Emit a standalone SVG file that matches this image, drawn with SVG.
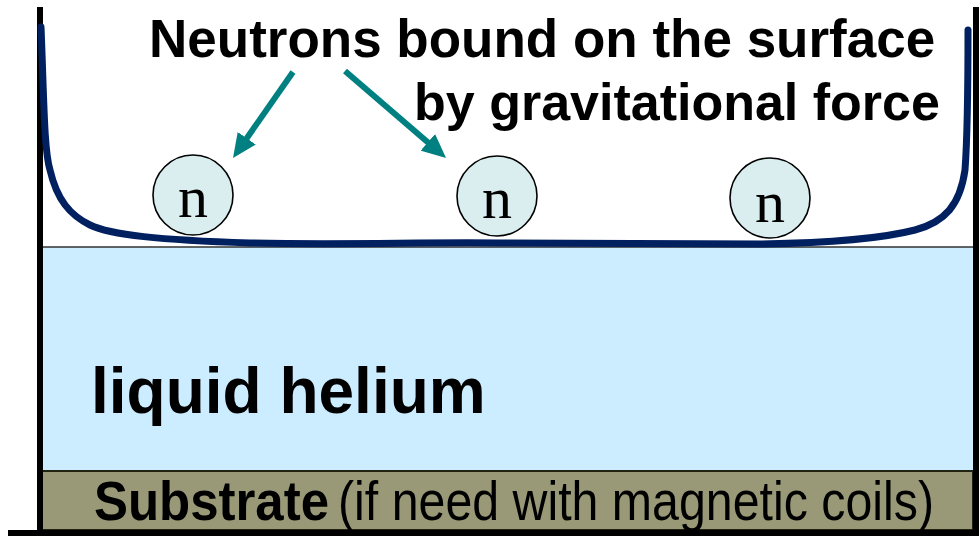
<svg xmlns="http://www.w3.org/2000/svg" width="979" height="536" viewBox="0 0 979 536">
<style>
.title{font-family:"Liberation Sans",Arial,sans-serif;font-weight:bold;fill:#000}
.n{font-family:"Liberation Serif","Times New Roman",serif;font-size:60px;fill:#000;text-anchor:middle}
.circ{fill:#DAEEF0;stroke:#000;stroke-width:1.6}
.arrow{stroke:#008080;stroke-width:6;fill:none;marker-end:url(#ah)}
</style>
<defs>
<marker id="ah" markerUnits="userSpaceOnUse" markerWidth="24" markerHeight="22" refX="6" refY="11" orient="auto" viewBox="0 0 24 22">
<path d="M0,0 L24,11 L0,22 z" fill="#008080"/>
</marker>
</defs>
<rect width="979" height="536" fill="#fff"/>
<g id="helium">
<rect x="41" y="247" width="934" height="224" fill="#CCECFF" stroke="#333" stroke-width="1.5"/>
<text class="title" x="91" y="413" font-size="64">liquid helium</text>
</g>
<g id="substrate">
<rect x="41" y="471" width="932" height="59" fill="#999978" stroke="#222211" stroke-width="2"/>
<text class="title" x="94" y="520" font-size="55" textLength="235" lengthAdjust="spacingAndGlyphs">Substrate</text>
<text x="338" y="520" font-family="'Liberation Sans',Arial,sans-serif" font-size="55" textLength="596" lengthAdjust="spacingAndGlyphs" fill="#000">(if need with magnetic coils)</text>
</g>
<g id="container">
<rect x="37" y="7" width="6" height="529" fill="#000"/>
<rect x="973" y="7" width="6" height="529" fill="#000"/>
<rect x="8" y="530" width="971" height="6" fill="#000"/>
</g>
<g id="potential">
<path d="M41 27 C44 100,44 150,50 170 C57 200,70 215,90 225 C110 235,160 240,250 243 C350 245,420 242,500 243 C600 244,680 244,760 244 C830 243,880 239,915 230 C945 222,960 205,965 170 C968 130,968 80,968 30" fill="none" stroke="#002060" stroke-width="7" stroke-linecap="round"/>
</g>
<g id="label">
<text class="title" x="149" y="57" font-size="53">Neutrons bound on the surface</text>
<text class="title" x="414" y="120" font-size="52">by gravitational force</text>
</g>
<g id="n1"><circle class="circ" cx="193" cy="195" r="40"/><text class="n" x="193" y="217">n</text></g>
<g id="n2"><circle class="circ" cx="497" cy="196" r="40"/><text class="n" x="497" y="218">n</text></g>
<g id="n3"><circle class="circ" cx="770" cy="198" r="40"/><text class="n" x="770" y="222">n</text></g>
<g id="connectors">
<line class="arrow" x1="293" y1="72" x2="243.3" y2="143.2"/>
<line class="arrow" x1="345" y1="71" x2="432.4" y2="146.2"/>
</g>
</svg>
